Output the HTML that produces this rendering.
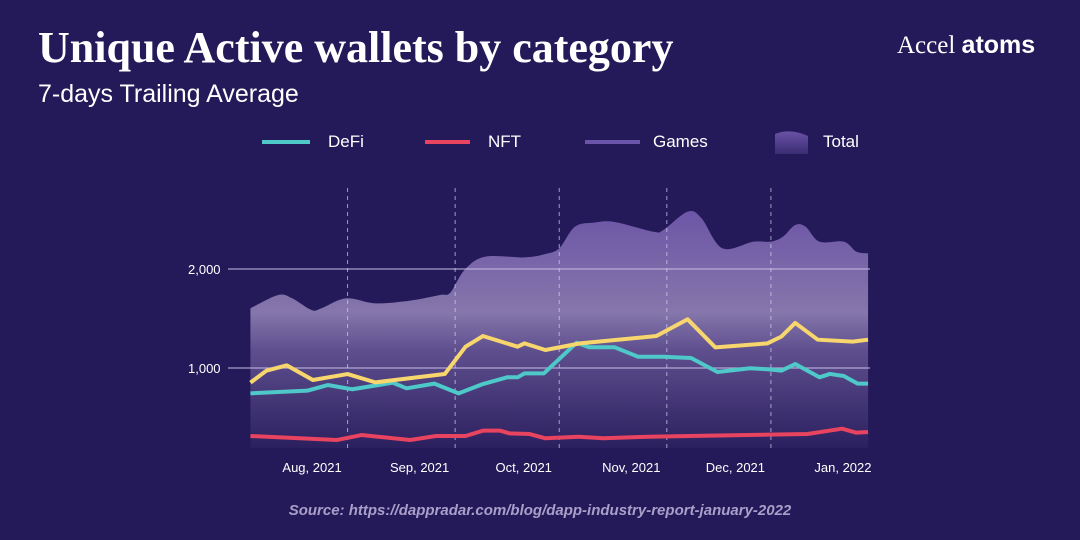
<!DOCTYPE html>
<html><head><meta charset="utf-8"><style>
body{margin:0;width:1080px;height:540px;background:#251a59;overflow:hidden;font-family:"Liberation Sans",sans-serif;}
svg{position:absolute;left:0;top:0}
</style></head><body>
<svg width="1080" height="540">
<defs>
<linearGradient id="ag" x1="0" y1="200" x2="0" y2="450" gradientUnits="userSpaceOnUse">
<stop offset="0" stop-color="#6a52a6"/>
<stop offset="0.45" stop-color="#8576ab"/>
<stop offset="0.6" stop-color="#5f4f8f"/>
<stop offset="1" stop-color="#2a1f5e"/>
</linearGradient>
<linearGradient id="lg" x1="0" y1="0" x2="0" y2="1">
<stop offset="0" stop-color="#6a52a6"/><stop offset="1" stop-color="#3a2d72"/>
</linearGradient>
</defs>
<text x="38" y="62" fill="#fff" font-family="Liberation Serif,serif" font-weight="bold" font-size="44">Unique Active wallets by category</text>
<text x="38" y="102" fill="#fff" font-size="25">7-days Trailing Average</text>
<g><text x="897" y="53" fill="#fff" font-family="Liberation Serif,serif" font-size="25">Accel <tspan font-weight="bold" font-family="Liberation Sans,sans-serif">atoms</tspan></text></g>
<g>
<g><line x1="262" y1="142" x2="310" y2="142" stroke="#4ec8c8" stroke-width="4"/><text x="328" y="147" fill="#fff" font-size="17">DeFi</text></g>
<g><line x1="425" y1="142" x2="470" y2="142" stroke="#e8435f" stroke-width="4"/><text x="488" y="147" fill="#fff" font-size="17">NFT</text></g>
<g><line x1="585" y1="142" x2="640" y2="142" stroke="#6b55a8" stroke-width="4"/><text x="653" y="147" fill="#fff" font-size="17">Games</text></g>
<g><path d="M775 134 Q790 128 808 136 L808 154 L775 154Z" fill="url(#lg)"/><text x="823" y="147" fill="#fff" font-size="17">Total</text></g>
</g>
<g id="plot"></g>
<text x="540" y="515" fill="#a99fc9" font-size="15" font-weight="bold" font-style="italic" text-anchor="middle">Source: https://dappradar.com/blog/dapp-industry-report-january-2022</text>
</svg>
<script>
const totalDays=[3,11,15,20.6,23.5,30.6,39,49,57.6,60.6,64.7,70.6,82,88,92,96.5,102,108,119,122,129,133,139,148,153,156.5,160,163,167,174,177.6,181];
const totalVals=[1603,1737,1704,1586,1603,1704,1653,1680,1737,1761,1990,2124,2117,2151,2209,2427,2468,2475,2377,2394,2579,2512,2209,2276,2276,2327,2444,2427,2276,2276,2175,2158];
const gamesDays=[3,7.6,13.5,21,31,39,59,65,70,80,82,88,98,120,129,137,152,156,160,166.5,176.5,181];
const gamesVals=[852,973,1027,879,939,855,939,1215,1323,1215,1249,1182,1249,1323,1492,1208,1249,1317,1455,1286,1266,1286];
const defiDays=[3,19.4,25.3,32.4,44,48,56,63,70,77,80,82,87.6,97,100.6,108,114.7,122,130,137.6,147,152,156,160,167,170,174,178,181];
const defiVals=[744,771,828,785,852,795,842,744,838,906,906,946,946,1256,1209,1209,1114,1114,1101,960,997,987,973,1040,906,940,919,842,842];
const nftDays=[3,28,35,49,56.5,65,70,75,77.6,83.5,88,97.6,104.7,117.6,129.4,163.5,173.5,177.6,181];
const nftVals=[313,273,323,273,313,313,367,367,340,333,290,306,290,306,313,333,387,347,354];
const yTicks=[1000,2000];
const yTickLabels=["1,000","2,000"];
const monthDays=[31,62,92,123,153];
const monthLabelDays=[15,46,76,107,137,168];
const monthLabels=["Aug, 2021","Sep, 2021","Oct, 2021","Nov, 2021","Dec, 2021","Jan, 2022"];
const X=d=>240+d*3.47, Y=v=>467-v*0.099;
const NS="http://www.w3.org/2000/svg", g=document.getElementById('plot');
function mk(t,a){const e=document.createElementNS(NS,t);for(const k in a)e.setAttribute(k,a[k]);g.appendChild(e);return e;}
function smooth(pts){let d=`M${pts[0][0]},${pts[0][1]}`;for(let i=0;i<pts.length-1;i++){const p0=pts[i-1]||pts[i],p1=pts[i],p2=pts[i+1],p3=pts[i+2]||p2;d+=` C${p1[0]+(p2[0]-p0[0])/6},${p1[1]+(p2[1]-p0[1])/6} ${p2[0]-(p3[0]-p1[0])/6},${p2[1]-(p3[1]-p1[1])/6} ${p2[0]},${p2[1]}`;}return d;}
const tp=totalDays.map((d,i)=>[X(d),Y(totalVals[i])]);
let area=mk('path',{d:smooth(tp)+` L${X(181)},448 L${X(3)},448Z`,fill:'url(#ag)'});


yTicks.forEach((t,i)=>{
 let l=mk('line',{x1:228,x2:870,y1:Y(t),y2:Y(t),stroke:'#c9bfe6','stroke-width':1.2,opacity:0.8});
 
 
 let tx=mk('text',{x:188,y:Y(t)+5,fill:'#fff','font-size':13});tx.textContent=yTickLabels[i];
 
 
});
monthDays.forEach(d=>{
 let l=mk('line',{x1:X(d),x2:X(d),y1:188,y2:448,stroke:'#d8d0f0','stroke-width':1,'stroke-dasharray':'4,4',opacity:0.7});
 
 
});
monthLabelDays.forEach((d,i)=>{
 let t=mk('text',{x:X(d)+20,y:472,fill:'#fff','font-size':13,'text-anchor':'middle'});t.textContent=monthLabels[i];
 
 
});
function line(days,vals,col,name){
 let p=mk('polyline',{points:days.map((d,i)=>X(d)+','+Y(vals[i])).join(' '),fill:'none',stroke:col,'stroke-width':4,'stroke-linejoin':'round'});
 
 
}
line(nftDays,nftVals,'#e8435f','nft-line');
line(defiDays,defiVals,'#4ec8c8','defi-line');
line(gamesDays,gamesVals,'#f7d66d','games-line');
</script>
</body></html>
